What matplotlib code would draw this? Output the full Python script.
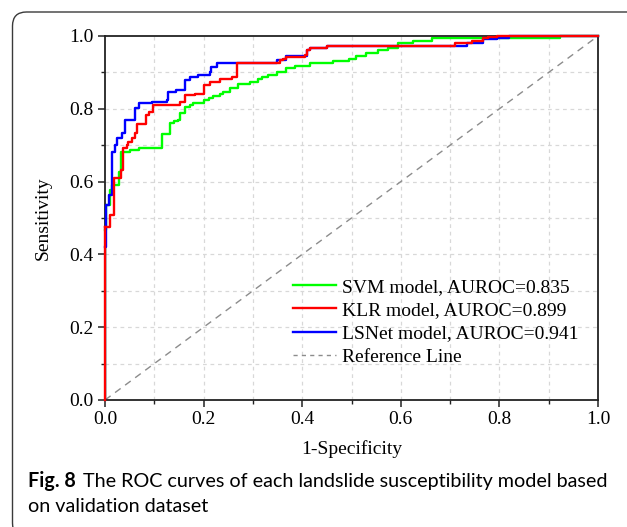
import numpy as np
import matplotlib
matplotlib.use('Agg')
from matplotlib import pyplot as plt
from matplotlib.patches import FancyBboxPatch
from matplotlib.lines import Line2D

# ROC staircase vertices (post-step): at fpr[i] the curve jumps up to tpr[i]
svm_fpr = [0, 0.003, 0.01, 0.015, 0.028, 0.032, 0.051, 0.068, 0.115, 0.132, 0.139, 0.149,
           0.152, 0.162, 0.172, 0.179, 0.2, 0.21, 0.22, 0.233, 0.24, 0.254, 0.27, 0.294,
           0.31, 0.318, 0.331, 0.348, 0.368, 0.385, 0.416, 0.463, 0.494, 0.51, 0.53, 0.554,
           0.575, 0.595, 0.625, 0.663, 0.923, 1.0]
svm_tpr = [0.467, 0.536, 0.577, 0.59, 0.627, 0.682, 0.687, 0.693, 0.73, 0.76, 0.766, 0.769,
           0.788, 0.806, 0.81, 0.815, 0.824, 0.829, 0.834, 0.842, 0.847, 0.856, 0.867, 0.874,
           0.882, 0.888, 0.893, 0.902, 0.911, 0.918, 0.925, 0.931, 0.938, 0.946, 0.952, 0.962,
           0.968, 0.98, 0.986, 0.995, 1.0, 1.0]

klr_fpr = [0, 0.01, 0.019, 0.032, 0.037, 0.044, 0.047, 0.054, 0.06, 0.064, 0.083, 0.09,
           0.097, 0.152, 0.162, 0.183, 0.2, 0.213, 0.233, 0.257, 0.267, 0.355, 0.362, 0.368,
           0.406, 0.409, 0.416, 0.45, 0.71, 0.744, 0.767, 0.777, 0.795, 1.0]
klr_tpr = [0.476, 0.508, 0.609, 0.632, 0.691, 0.70, 0.71, 0.72, 0.733, 0.758, 0.783, 0.79,
           0.81, 0.82, 0.838, 0.842, 0.865, 0.874, 0.883, 0.888, 0.925, 0.934, 0.938, 0.943,
           0.948, 0.962, 0.968, 0.973, 0.98, 0.986, 0.994, 0.997, 1.0, 1.0]

lsnet_fpr = [0, 0.003, 0.008, 0.014, 0.02, 0.024, 0.034, 0.041, 0.061, 0.068, 0.095, 0.125,
             0.128, 0.145, 0.162, 0.172, 0.189, 0.213, 0.216, 0.227, 0.348, 0.368, 0.409,
             0.416, 0.45, 0.734, 0.767, 0.795, 0.82, 1.0]
lsnet_tpr = [0.42, 0.536, 0.563, 0.682, 0.70, 0.719, 0.733, 0.769, 0.801, 0.815, 0.82, 0.824,
             0.847, 0.852, 0.879, 0.886, 0.894, 0.902, 0.916, 0.927, 0.934, 0.946, 0.962,
             0.968, 0.972, 0.98, 0.992, 0.995, 1.0, 1.0]

labels = ['SVM model, AUROC=0.835', 'KLR model, AUROC=0.899',
          'LSNet model, AUROC=0.941', 'Reference Line']

serif = 'Liberation Serif'
fs = 14

fig = plt.figure(figsize=(6.27, 5.27), dpi=100)
ax = fig.add_axes([105/627, 1-400/527, 493/627, 364/527])

# grid every 0.1
for v in np.arange(0.1, 1.0, 0.1):
    ax.axvline(v, color='#d8d8d8', lw=0.9, ls=(0, (3, 3)), zorder=0)
    ax.axhline(v, color='#d8d8d8', lw=0.9, ls=(0, (3, 3)), zorder=0)

ax.plot([0, 1], [0, 1], color='#8c8c8c', lw=1.0, ls=(0, (5, 4)), zorder=1)
# vertical segments from the origin
ax.plot([0, 0], [0, svm_tpr[0]], color='#00ff00', lw=1.7, zorder=2)
ax.step(svm_fpr, svm_tpr, where='post', color='#00ff00', lw=1.7, zorder=2, clip_on=False)
ax.plot([0, 0], [0, lsnet_tpr[0]], color='#0000ff', lw=1.7, zorder=3)
ax.step(lsnet_fpr, lsnet_tpr, where='post', color='#0000ff', lw=1.7, zorder=3, clip_on=False)
ax.plot([0, 0], [0, klr_tpr[0]], color='#ff0000', lw=1.7, zorder=4, clip_on=False)
ax.step(klr_fpr, klr_tpr, where='post', color='#ff0000', lw=1.7, zorder=4, clip_on=False)

ax.set_xlim(0, 1)
ax.set_ylim(0, 1)
ax.set_xticks(np.arange(0, 1.01, 0.2))
ax.set_yticks(np.arange(0, 1.01, 0.2))
ax.set_xticks(np.arange(0.1, 1.0, 0.2), minor=True)
ax.set_yticks(np.arange(0.1, 1.0, 0.2), minor=True)
ax.set_xticklabels(['%.1f' % v for v in np.arange(0, 1.01, 0.2)], family=serif, fontsize=fs)
ax.set_yticklabels(['%.1f' % v for v in np.arange(0, 1.01, 0.2)], family=serif, fontsize=fs)
ax.tick_params(which='major', direction='out', length=5, width=1.1, color='#222222', pad=3)
ax.tick_params(which='minor', direction='out', length=3, width=1.0, color='#222222')
for s in ax.spines.values():
    s.set_linewidth(1.3)
    s.set_color('#222222')

ax.set_xlabel('1-Specificity', family=serif, fontsize=fs, labelpad=9)
ax.set_ylabel('Sensitivity', family=serif, fontsize=fs, labelpad=13)

handles = [Line2D([], [], color='#00ff00', lw=1.7),
           Line2D([], [], color='#ff0000', lw=1.7),
           Line2D([], [], color='#0000ff', lw=1.7),
           Line2D([], [], color='#8c8c8c', lw=1.0, ls=(0, (3, 3)))]
ax.legend(handles, labels, loc='upper left', bbox_to_anchor=(0.381, 0.335), frameon=False,
          prop={'family': serif, 'size': fs}, handlelength=2.2, handletextpad=0.35,
          labelspacing=0.3, borderpad=0, borderaxespad=0)

# rounded caption box
box = FancyBboxPatch((0.125, -0.1), 7.0, 5.15 + 0.1, boxstyle='round,pad=0,rounding_size=0.14',
                     transform=fig.dpi_scale_trans, fill=False, ec='#3a3a3a', lw=1.0)
fig.patches.append(box)

cap_font = 'Lato'
cap_fs = 14.2
t = fig.text(28/627, 1-481/527, 'Fig. 8', family=cap_font, fontsize=cap_fs, weight='bold',
             va='center', ha='left')
fig.canvas.draw()
bb = t.get_window_extent()
fig.text(bb.x1/627 + 0.012, 1-481/527, 'The ROC curves of each landslide susceptibility model based',
         family=cap_font, fontsize=cap_fs, va='center', ha='left')
fig.text(28/627, 1-507/527, 'on validation dataset', family=cap_font, fontsize=cap_fs,
         va='center', ha='left')

fig.savefig('out.png', dpi=100)
